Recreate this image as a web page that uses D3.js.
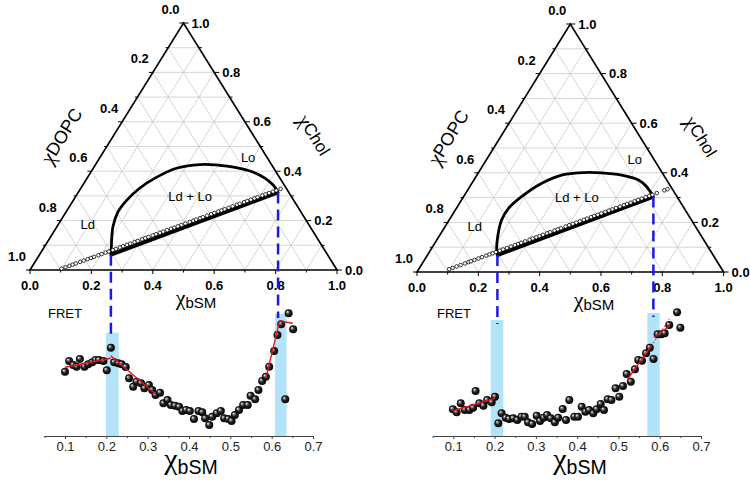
<!DOCTYPE html>
<html><head><meta charset="utf-8">
<script src="https://cdn.jsdelivr.net/npm/d3@7"></script>
<style>
body{margin:0;background:#fff}
svg{display:block;font-family:"Liberation Sans",Arial,sans-serif}
.chi{font-family:"Liberation Serif","DejaVu Serif",serif}
</style>
</head><body>
<svg id="c" width="750" height="482"></svg>
<script>
// ---------------- DATA ----------------
const ternaryTickValues = [0, 0.2, 0.4, 0.6, 0.8, 1.0];
const ternaryMinorValues = [0.1, 0.3, 0.5, 0.7, 0.9];
const ternaryGridValues = [0.1, 0.2, 0.3, 0.4, 0.5, 0.6, 0.7, 0.8, 0.9];
const fretTickValues = [0.1, 0.2, 0.3, 0.4, 0.5, 0.6, 0.7];
const fretMinorValues = [0.05, 0.15, 0.25, 0.35, 0.45, 0.55, 0.65];

// DOPC / bSM / Chol (left)
const dopcBoundaryBSM  = [0.2325, 0.224, 0.183, 0.169, 0.174, 0.192, 0.221, 0.273, 0.340, 0.431, 0.516, 0.579, 0.620, 0.651];
const dopcBoundaryChol = [0.062, 0.081, 0.174, 0.235, 0.283, 0.332, 0.372, 0.413, 0.427, 0.421, 0.401, 0.372, 0.344, 0.314];
const dopcTieBSM  = [0.091, 0.658];
const dopcTieChol = [0.000, 0.332];
const dopcThickBSM  = [0.2325, 0.651];
const dopcThickChol = [0.062, 0.314];
const dopcFretX = [0.100,0.110,0.120,0.128,0.136,0.147,0.156,0.166,0.174,0.182,0.193,0.201,0.211,0.219,0.229,0.237,0.247,0.255,0.265,0.273,0.284,0.292,0.303,0.311,0.319,0.330,0.338,0.348,0.356,0.366,0.376,0.384,0.393,0.402,0.412,0.423,0.432,0.439,0.449,0.456,0.467,0.477,0.485,0.495,0.503,0.511,0.521,0.531,0.542,0.549,0.560,0.568,0.577,0.586,0.594,0.606,0.614,0.623,0.633,0.641,0.652];
const dopcFretY = [0.643,0.750,0.710,0.693,0.770,0.693,0.717,0.737,0.760,0.760,0.750,0.657,0.883,0.737,0.727,0.717,0.690,0.577,0.493,0.543,0.527,0.477,0.510,0.460,0.410,0.433,0.327,0.360,0.310,0.303,0.293,0.250,0.260,0.250,0.170,0.250,0.237,0.177,0.110,0.193,0.227,0.250,0.177,0.170,0.150,0.210,0.260,0.310,0.310,0.403,0.367,0.460,0.550,0.593,0.693,0.850,1.010,1.117,0.367,1.227,1.067];
const dopcFitX = [[0.100, 0.2106], [0.2106, 0.3195], [0.5863, 0.6185], [0.6185, 0.651]];
const dopcFitY = [[0.687, 0.777], [0.803, 0.417], [0.583, 1.137], [1.150, 1.127]];
const dopcBandX = [[0.199, 0.230], [0.608, 0.636]];
const dopcBandTop = [1.033, 1.220];

// POPC / bSM / Chol (right)
const popcBoundaryBSM  = [0.228, 0.219, 0.187, 0.171, 0.170, 0.189, 0.228, 0.276, 0.326, 0.402, 0.472, 0.537, 0.577, 0.619];
const popcBoundaryChol = [0.0685,0.082, 0.156, 0.210, 0.257, 0.304, 0.358, 0.391, 0.400, 0.400, 0.391, 0.371, 0.344, 0.304];
const popcTieBSM  = [0.080, 0.656];
const popcTieChol = [0.000, 0.3375];
const popcThickBSM  = [0.228, 0.619];
const popcThickChol = [0.0685, 0.304];
const popcFretX = [0.099,0.108,0.118,0.128,0.139,0.148,0.154,0.163,0.173,0.182,0.193,0.201,0.209,0.217,0.227,0.235,0.245,0.255,0.265,0.273,0.281,0.291,0.302,0.310,0.319,0.327,0.336,0.346,0.354,0.365,0.373,0.381,0.393,0.402,0.411,0.420,0.429,0.439,0.447,0.457,0.465,0.474,0.483,0.493,0.502,0.511,0.520,0.530,0.540,0.548,0.557,0.567,0.576,0.585,0.595,0.604,0.612,0.623,0.642,0.650];
const popcFretY = [0.267,0.237,0.327,0.260,0.260,0.283,0.450,0.327,0.303,0.360,0.337,0.393,0.127,0.227,0.183,0.170,0.177,0.160,0.193,0.193,0.137,0.120,0.203,0.150,0.183,0.210,0.177,0.137,0.183,0.270,0.160,0.360,0.193,0.193,0.293,0.243,0.260,0.227,0.267,0.320,0.260,0.367,0.360,0.477,0.393,0.500,0.620,0.543,0.667,0.760,0.753,0.827,0.883,0.770,1.017,1.017,1.027,1.110,1.237,1.083];
const popcFitX = [[0.0985, 0.2009], [0.522, 0.5784], [0.586, 0.6238]];
const popcFitY = [[0.250, 0.377], [0.567, 0.893], [0.987, 1.100]];
const popcDashFitX = [0.578, 0.627];
const popcDashFitY = [0.893, 1.193];
const popcBandX = [[0.1905, 0.221], [0.570, 0.600]];
const popcBandTop = [1.160, 1.230];

const phaseNames = ["Lo", "Ld + Lo", "Ld"];

// ---------------- LAYOUT ----------------
const svg = d3.select("#c");
const defs = svg.append("defs");
const grad = defs.append("radialGradient").attr("id", "sphere")
  .attr("cx", "0.5").attr("cy", "0.5").attr("r", "0.55").attr("fx", "0.32").attr("fy", "0.3");
grad.append("stop").attr("offset", "0").attr("stop-color", "#ffffff");
grad.append("stop").attr("offset", "0.18").attr("stop-color", "#9a9a9a");
grad.append("stop").attr("offset", "0.5").attr("stop-color", "#1e1e1e");
grad.append("stop").attr("offset", "1").attr("stop-color", "#000000");

const panels = [
  { pc: "DOPC", ax: 30, bx: 337, by: 270, ty: 23,
    fx0: 65, fx1: 313, titleX: 196, fretTitleX: 191, fretLabelX: 48,
    bB: dopcBoundaryBSM, bC: dopcBoundaryChol, tieB: dopcTieBSM, tieC: dopcTieChol,
    thB: dopcThickBSM, thC: dopcThickChol, fX: dopcFretX, fY: dopcFretY,
    fitX: dopcFitX, fitY: dopcFitY, dashFitX: null, dashFitY: null,
    bandX: dopcBandX, bandTop: dopcBandTop },
  { pc: "POPC", ax: 417, bx: 723.6, by: 272, ty: 24,
    fx0: 453.3, fx1: 701, titleX: 594, fretTitleX: 580, fretLabelX: 437,
    bB: popcBoundaryBSM, bC: popcBoundaryChol, tieB: popcTieBSM, tieC: popcTieChol,
    thB: popcThickBSM, thC: popcThickChol, fX: popcFretX, fY: popcFretY,
    fitX: popcFitX, fitY: popcFitY, dashFitX: popcDashFitX, dashFitY: popcDashFitY,
    bandX: popcBandX, bandTop: popcBandTop }
];

// phase label compositions (bSM, Chol)
const phaseLabelPos = [[0.483, 0.455], [0.372, 0.299], [0.096, 0.184]];

panels.forEach(drawPanel);

function chiText(sel, chiSize, restSize, rest, dy) {
  sel.append("tspan").attr("class", "chi").attr("font-size", chiSize).text("\u03C7");
  sel.append("tspan").attr("font-size", restSize).attr("dy", dy).text(rest);
}

function drawPanel(p) {
  const g = svg.append("g");
  const tx = d3.scaleLinear().domain([0, 1]).range([p.ax, p.bx]);
  const ty = d3.scaleLinear().domain([0, 1]).range([p.by, p.ty]);
  const P = (b, c) => [tx(b + c / 2), ty(c)];
  const line = d3.line();

  // grid
  const grid = g.append("g").attr("stroke", "#c4c4c4").attr("stroke-width", 0.7).attr("fill", "none");
  ternaryGridValues.forEach(v => {
    grid.append("path").attr("d", line([P(0, v), P(1 - v, v)]));
    grid.append("path").attr("d", line([P(v, 0), P(v, 1 - v)]));
    grid.append("path").attr("d", line([P(1 - v, 0), P(0, 1 - v)]));
  });

  // triangle
  g.append("path").attr("d", line([P(0, 0), P(1, 0), P(0, 1)]) + "Z")
    .attr("fill", "none").attr("stroke", "#000").attr("stroke-width", 1.7);

  // ticks
  const tk = g.append("g").attr("stroke", "#000").attr("stroke-width", 1);
  ternaryTickValues.concat(ternaryMinorValues).forEach(v => {
    const major = ternaryTickValues.includes(v);
    const lb = P(v, 0);
    tk.append("line").attr("x1", lb[0]).attr("x2", lb[0]).attr("y1", lb[1]).attr("y2", lb[1] + (major ? 4 : 2.5));
    const rc = P(1 - v, v);
    tk.append("line").attr("x1", rc[0]).attr("x2", rc[0] + (major ? 5 : 3)).attr("y1", rc[1]).attr("y2", rc[1]);
    const ld = P(0, 1 - v);
    tk.append("line").attr("x1", ld[0]).attr("x2", ld[0] - (major ? 4 : 2.5)).attr("y1", ld[1]).attr("y2", ld[1]);
  });

  // tick labels
  const lab = g.append("g").attr("font-size", 13).attr("font-weight", "bold").attr("fill", "#000");
  ternaryTickValues.forEach(v => {
    const s = v.toFixed(1);
    const lb = P(v, 0);
    lab.append("text").attr("x", lb[0]).attr("y", lb[1] + 15).attr("text-anchor", "middle")
      .attr("dominant-baseline", "central").text(s);
    const rc = P(1 - v, v);
    lab.append("text").attr("x", rc[0] + 8).attr("y", rc[1]).attr("text-anchor", "start")
      .attr("dominant-baseline", "central").text(s);
    const ld = P(0, 1 - v);
    lab.append("text").attr("x", ld[0] - 13).attr("y", ld[1] - 13.5).attr("text-anchor", "middle")
      .attr("dominant-baseline", "central").text(s);
  });

  // axis titles
  const angle = Math.atan2(p.ty - p.by, (p.bx - p.ax) / 2) * 180 / Math.PI;
  const lm = P(0, 0.5), rm = P(0.5, 0.5);
  const lt = g.append("text").attr("transform", `translate(${lm[0] - 45},${lm[1] - 10.5}) rotate(${angle})`)
    .attr("text-anchor", "middle").attr("dominant-baseline", "central");
  chiText(lt, 21, 18, p.pc, 0);
  const rt = g.append("text").attr("transform", `translate(${rm[0] + 54},${rm[1] - 11.5}) rotate(${-angle})`)
    .attr("text-anchor", "middle").attr("dominant-baseline", "central");
  chiText(rt, 21, 17, "Chol", 0);
  const bt = g.append("text").attr("x", p.titleX).attr("y", p.by + 35).attr("text-anchor", "middle");
  chiText(bt, 22, 15, "bSM", 3);

  // phase labels
  phaseNames.forEach((n, i) => {
    const q = P(phaseLabelPos[i][0], phaseLabelPos[i][1]);
    g.append("text").attr("x", q[0]).attr("y", q[1]).attr("text-anchor", "middle")
      .attr("dominant-baseline", "central").attr("font-size", 13).text(n);
  });

  // boundary
  const bpts = p.bB.map((b, i) => P(b, p.bC[i]));
  g.append("path").attr("d", d3.line().curve(d3.curveCatmullRom.alpha(0.5))(bpts))
    .attr("fill", "none").attr("stroke", "#000").attr("stroke-width", 2.8).attr("stroke-linecap", "round");

  // thick tie line
  g.append("path").attr("d", line([P(p.thB[0], p.thC[0]), P(p.thB[1], p.thC[1])]))
    .attr("stroke", "#000").attr("stroke-width", 4).attr("fill", "none");

  // sampled compositions on the tie line
  const tieComp = b => {
    const t = (b - p.tieB[0]) / (p.tieB[1] - p.tieB[0]);
    return P(b, p.tieC[0] + t * (p.tieC[1] - p.tieC[0]));
  };
  g.append("g").selectAll("circle").data(p.fX).join("circle")
    .attr("cx", d => tieComp(d)[0]).attr("cy", d => tieComp(d)[1]).attr("r", 1.8)
    .attr("fill", "#fff").attr("stroke", "#000").attr("stroke-width", 0.8);

  // ---- FRET panel ----
  const fx = d3.scaleLinear().domain([0.1, 0.7]).range([p.fx0, p.fx1]);
  const fy = d3.scaleLinear().domain([0, 1.3]).range([436, 306]);
  const fxAxis = fx.copy().domain([0.05, 0.7]).range([fx(0.05), fx(0.7)]);

  // bands
  g.append("g").selectAll("rect").data(p.bandX).join("rect")
    .attr("x", d => fx(d[0])).attr("width", d => fx(d[1]) - fx(d[0]))
    .attr("y", (d, i) => fy(p.bandTop[i])).attr("height", (d, i) => fy(0) - fy(p.bandTop[i]))
    .attr("fill", "#b3e3f9");

  // axis
  const axG = g.append("g").attr("transform", "translate(0,436)")
    .call(d3.axisBottom(fxAxis).tickValues(fretTickValues).tickFormat(d3.format(".1f")).tickSize(3).tickSizeOuter(0));
  axG.select(".domain").attr("stroke", "#444").attr("stroke-width", 1.2);
  axG.selectAll(".tick line").attr("stroke", "#444");
  axG.selectAll(".tick text").attr("font-size", 13).attr("fill", "#222")
    .attr("font-family", '"Liberation Sans",Arial,sans-serif');
  const axM = g.append("g").attr("transform", "translate(0,436)")
    .call(d3.axisBottom(fxAxis).tickValues(fretMinorValues).tickFormat("").tickSize(2).tickSizeOuter(0));
  axM.select(".domain").remove();
  axM.selectAll(".tick line").attr("stroke", "#444");

  // FRET x title
  const ft = g.append("text").attr("x", p.fretTitleX).attr("y", 469).attr("text-anchor", "middle");
  chiText(ft, 30, 19.5, "bSM", 5);

  g.append("text").attr("x", p.fretLabelX).attr("y", 313).attr("dominant-baseline", "central")
    .attr("font-size", 13).text("FRET");

  // points
  g.append("g").selectAll("circle").data(p.fX).join("circle")
    .attr("cx", d => fx(d)).attr("cy", (d, i) => fy(p.fY[i])).attr("r", 4)
    .attr("fill", "url(#sphere)");

  // fit lines
  g.append("g").selectAll("line").data(p.fitX).join("line")
    .attr("x1", d => fx(d[0])).attr("x2", d => fx(d[1]))
    .attr("y1", (d, i) => fy(p.fitY[i][0])).attr("y2", (d, i) => fy(p.fitY[i][1]))
    .attr("stroke", "#e8141e").attr("stroke-width", 1.4);
  if (p.dashFitX) {
    g.append("line").attr("x1", fx(p.dashFitX[0])).attr("x2", fx(p.dashFitX[1]))
      .attr("y1", fy(p.dashFitY[0])).attr("y2", fy(p.dashFitY[1]))
      .attr("stroke", "#e8141e").attr("stroke-width", 0.9).attr("stroke-dasharray", "2,2");
  }

  // dashed projection lines
  p.thB.forEach((b, i) => {
    const s = P(b, p.thC[i]);
    g.append("line").attr("x1", s[0]).attr("x2", s[0]).attr("y1", s[1]).attr("y2", fy(p.bandTop[i]) + 4)
      .attr("stroke", "#1a1ae8").attr("stroke-width", 2.5).attr("stroke-dasharray", "11,6");
  });
}
</script>
</body></html>
